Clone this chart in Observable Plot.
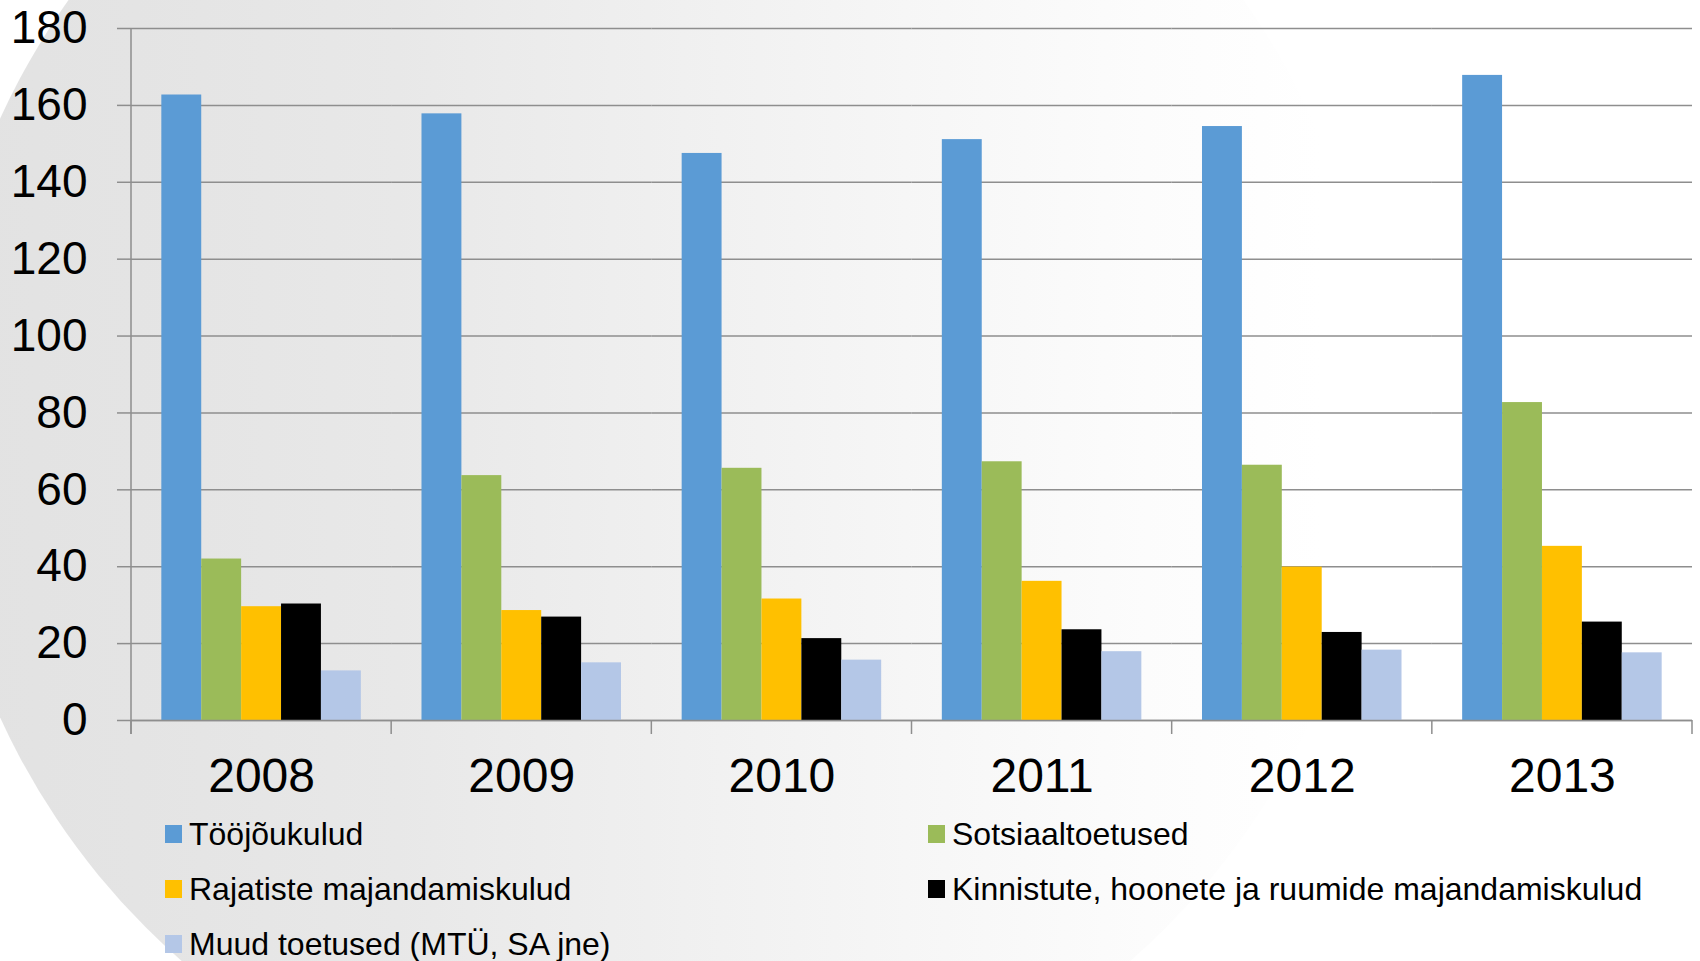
<!DOCTYPE html>
<html>
<head>
<meta charset="utf-8">
<script src="https://cdn.jsdelivr.net/npm/d3@7"></script>
<script src="https://cdn.jsdelivr.net/npm/@observablehq/plot@0.6"></script>
<style>
  html, body { margin: 0; padding: 0; background: #ffffff; }
  #wrap { position: relative; width: 1700px; height: 961px; overflow: hidden;
          font-family: "Liberation Sans", Arial, sans-serif; }
  #bg { position: absolute; left: -65px; top: -303px; width: 1442px; height: 1442px; border-radius: 50%;
        background: linear-gradient(to right, #e2e2e2 0%, #e4e4e4 14%, #e8e8e8 32%, #f0f0f0 52%, #f7f7f7 70%, #fcfcfc 84%, #ffffff 96%); }
  #chart { position: absolute; left: 0; top: 0; }
  #legend { position: absolute; left: 0; top: 0; width: 1700px; height: 961px; }
  .item { position: absolute; height: 40px; display: flex; align-items: center; white-space: nowrap;
          font-size: 32px; color: #000; }
  .sw { width: 17px; height: 18px; margin-right: 7px; flex: none; }
</style>
</head>
<body>
<div id="wrap">
  <div id="bg"></div>
  <div id="chart"></div>
  <div id="legend"></div>
</div>
<script>
// ---- data ----
const years = ["2008", "2009", "2010", "2011", "2012", "2013"];
const seriesNames = [
  "Tööjõukulud",
  "Sotsiaaltoetused",
  "Rajatiste majandamiskulud",
  "Kinnistute, hoonete ja ruumide majandamiskulud",
  "Muud toetused (MTÜ, SA jne)"
];
const seriesColors = ["#5B9BD5", "#9BBB59", "#FFC000", "#000000", "#B4C7E7"];
const toojoukulud      = [162.7, 157.8, 147.5, 151.1, 154.5, 167.8];
const sotsiaaltoetused = [42.0, 63.7, 65.6, 67.3, 66.4, 82.7];
const rajatised        = [29.6, 28.6, 31.6, 36.2, 39.9, 45.3];
const kinnistud        = [30.3, 26.9, 21.3, 23.6, 22.9, 25.6];
const muudToetused     = [12.9, 15.0, 15.7, 17.9, 18.3, 17.6];
const yTicks = [0, 20, 40, 60, 80, 100, 120, 140, 160, 180];

const seriesValues = [toojoukulud, sotsiaaltoetused, rajatised, kinnistud, muudToetused];
const data = [];
years.forEach((yr, i) => seriesNames.forEach((s, j) => data.push({year: yr, series: s, value: seriesValues[j][i]})));

const gridColor = "#8e8e8e";

const chart = Plot.plot({
  width: 1700,
  height: 830,
  marginTop: 28,
  marginBottom: 110,
  marginLeft: 131,
  marginRight: 8,
  style: {background: "transparent", fontFamily: "'Liberation Sans', Arial, sans-serif", color: "#000", overflow: "visible"},
  fx: {domain: years, padding: 0, round: false, label: null},
  x: {domain: seriesNames, paddingInner: 0, paddingOuter: 0.76, round: false, axis: null},
  y: {domain: [0, 180], label: null},
  color: {domain: seriesNames, range: seriesColors},
  marks: [
    Plot.ruleY(yTicks, {y: d => d, stroke: gridColor, strokeWidth: 1.5}),
    Plot.barY(data, {fx: "year", x: "series", y: "value", fill: "series"}),
    Plot.ruleY([0], {stroke: gridColor, strokeWidth: 1.5}),
    Plot.axisY({ticks: yTicks, tickSize: 14, tickPadding: 30, fontSize: 46, stroke: gridColor, strokeWidth: 1.5, fill: "#000", label: null}),
    Plot.axisFx({anchor: "bottom", tickSize: 0, tickPadding: 37, fontSize: 48, fill: "#000", label: null})
  ]
});
document.getElementById("chart").appendChild(chart);

// axis line and category separator ticks, placed through the chart's own scales
const fxS = chart.scale("fx");
const yS = chart.scale("y");
const yLin = d3.scaleLinear().domain(yS.domain).range(yS.range);
const band = d3.scaleBand().domain(fxS.domain).range(fxS.range).paddingInner(0).paddingOuter(0);
const edges = fxS.domain.map(d => band(d)).concat([band(fxS.domain[fxS.domain.length - 1]) + band.bandwidth()]);
const svg = d3.select(chart.tagName.toLowerCase() === "svg" ? chart : chart.querySelector("svg"));
const g = svg.append("g").attr("stroke", gridColor).attr("stroke-width", 1.5);
const y0 = yLin(0), yTop = yLin(180);
g.append("line").attr("x1", edges[0]).attr("x2", edges[0]).attr("y1", yTop).attr("y2", y0 + 14);
edges.forEach(x => g.append("line").attr("x1", x).attr("x2", x).attr("y1", y0).attr("y2", y0 + 14));

// legend (two columns, three rows)
const legendCols = [165, 928];
const legendRows = [814, 869, 924];
const legend = d3.select("#legend");
seriesNames.forEach((s, i) => {
  const item = legend.append("div").attr("class", "item")
    .style("left", legendCols[i % 2] + "px")
    .style("top", legendRows[Math.floor(i / 2)] + "px");
  item.append("div").attr("class", "sw").style("background", seriesColors[i]);
  item.append("span").text(s);
});
</script>
</body>
</html>
